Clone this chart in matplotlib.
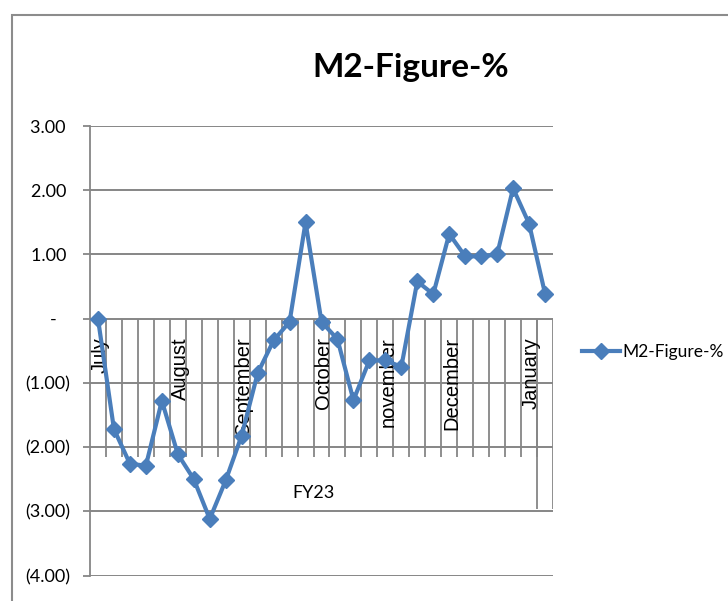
import numpy as np
import matplotlib.pyplot as plt
from matplotlib.patches import Rectangle

# M2 monthly change (%), FY23, one point per reporting week
values = [0.00, -1.72, -2.26, -2.29, -1.28, -2.11, -2.50, -3.12, -2.52, -1.82,
          -0.85, -0.34, -0.05, 1.50, -0.05, -0.32, -1.27, -0.65, -0.65, -0.75,
          0.58, 0.38, 1.32, 0.97, 0.97, 1.00, 2.03, 1.48, 0.39]
month_pos = [0, 5, 9, 14, 18, 22, 27]
month_names = ['July', 'August', 'September', 'October', 'november', 'December', 'January']
group_label = 'FY23'
series_name = 'M2-Figure-%'
yticks = [3, 2, 1, 0, -1, -2, -3, -4]
ytick_labels = ['3.00 ', '2.00 ', '1.00 ', '-   ', '(1.00)', '(2.00)', '(3.00)', '(4.00)']

plt.rcParams['font.family'] = ['Lato', 'DejaVu Sans']

W, H = 728, 601
fig = plt.figure(figsize=(W / 100, H / 100), dpi=100)

# chart area border (only top and left show in the picture)
fig.patches.append(Rectangle((12 / W, -0.1), 1.2, (H - 15) / H + 0.1,
                             transform=fig.transFigure, fill=False,
                             edgecolor='#8c8c8c', lw=1.5))

ax = fig.add_axes([90 / W, 1 - 575.5 / H, 463 / W, 449.5 / H])
gcol = '#868686'

x = np.arange(len(values))
ax.set_xlim(-0.5, len(values) - 0.5)
ax.set_ylim(-4, 3)

for s in ['top', 'right', 'bottom']:
    ax.spines[s].set_visible(False)
ax.spines['left'].set_color(gcol)
ax.spines['left'].set_linewidth(1.3)

ax.set_yticks(yticks)
ax.set_yticklabels(ytick_labels, fontsize=13)
ax.tick_params(axis='y', length=5, width=1.3, color=gcol, pad=9)
ax.set_xticks([])
ax.yaxis.grid(True, color=gcol, lw=1.4)
ax.set_axisbelow(True)

# category axis drawn at zero: first level ticks, then group separators
bounds = np.arange(0.5, len(values) - 0.5, 1)
ax.vlines(bounds, -2.16, 0, color=gcol, lw=1.3, zorder=1)
ax.vlines([len(values) - 1.5, len(values) - 0.5], -2.97, 0, color=gcol, lw=1.3, zorder=1)

for p, name in zip(month_pos, month_names):
    ax.text(p + 0.15, -0.29, name, rotation=90, ha='center', va='top',
            fontsize=14.5, family=['Liberation Sans', 'DejaVu Sans'], zorder=2)
ax.text(13.5, -2.72, group_label, ha='center', va='center', fontsize=13)

ax.plot(x, values, color='#4A7EBB', lw=3, marker='D', ms=8.5,
        label=series_name, zorder=3, clip_on=False)

fig.text(411 / W, 1 - 68 / H, series_name, ha='center', va='center',
         fontsize=24, fontweight='bold')

ax.legend(loc='center left', bbox_to_anchor=(582 / W, 1 - 352 / H),
          bbox_transform=fig.transFigure, frameon=False, borderpad=0,
          borderaxespad=0, handlelength=2.2, handletextpad=0.15, fontsize=12.5)

fig.savefig('out.png', dpi=100)
